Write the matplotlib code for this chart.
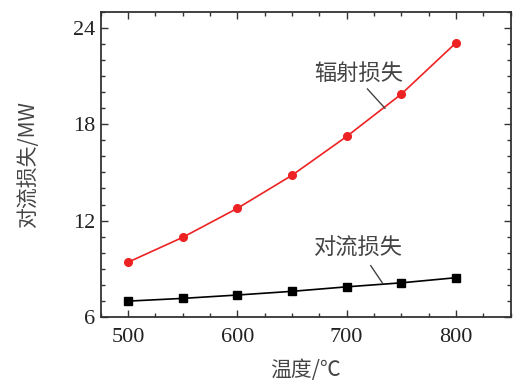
import matplotlib
matplotlib.use("Agg")
import matplotlib.pyplot as plt
from matplotlib.ticker import MultipleLocator

plt.rcParams['font.family'] = ['Noto Sans CJK SC', 'DejaVu Sans']

temps = [500, 550, 600, 650, 700, 750, 800]
radiation = [9.40, 10.95, 12.76, 14.82, 17.24, 19.88, 23.08]
convection = [6.98, 7.15, 7.36, 7.59, 7.87, 8.12, 8.44]
xticks = [500, 600, 700, 800]
yticks = [6, 12, 18, 24]

fig = plt.figure(figsize=(5.32, 3.85), dpi=100)
ax = fig.add_axes([0.189, 0.177, 0.771, 0.792])

ax.plot(temps, radiation, color='#ee2222', lw=1.2, marker='o', ms=5.5, mec='#ee2222', mfc='#ee2222')
ax.plot(temps, convection, color='black', lw=1.2, marker='s', ms=6, mec='black', mfc='black')

ax.set_xlim(475, 850)
ax.set_ylim(6, 25)
ax.set_xticks(xticks)
ax.set_yticks(yticks)
ax.xaxis.set_minor_locator(MultipleLocator(25))
ax.yaxis.set_minor_locator(MultipleLocator(1))
ax.tick_params(which='both', direction='in', top=True, right=True, width=1.0, color='#333333',
               labelfontfamily='Liberation Serif', labelsize=16, labelcolor='#222222')
ax.tick_params(which='major', length=5)
ax.tick_params(which='minor', length=3)
ax.tick_params(axis='x', pad=8)
ax.tick_params(axis='y', pad=4)
for s in ax.spines.values():
    s.set_linewidth(1.3)
    s.set_color('#333333')

ax.set_xlabel('温度/℃', fontsize=15, color='#444444', labelpad=9)
ax.set_ylabel('对流损失/MW', fontsize=15, color='#444444', labelpad=24)

ax.text(711, 21.2, '辐射损失', fontsize=16, color='#444444', ha='center', va='center')
ax.plot([719, 735], [20.2, 19.0], color='#444444', lw=1.0)
ax.text(711, 10.25, '对流损失', fontsize=16, color='#444444', ha='center', va='center')
ax.plot([722, 733], [9.19, 8.08], color='#444444', lw=1.0)

fig.savefig('out.png', dpi=100)
